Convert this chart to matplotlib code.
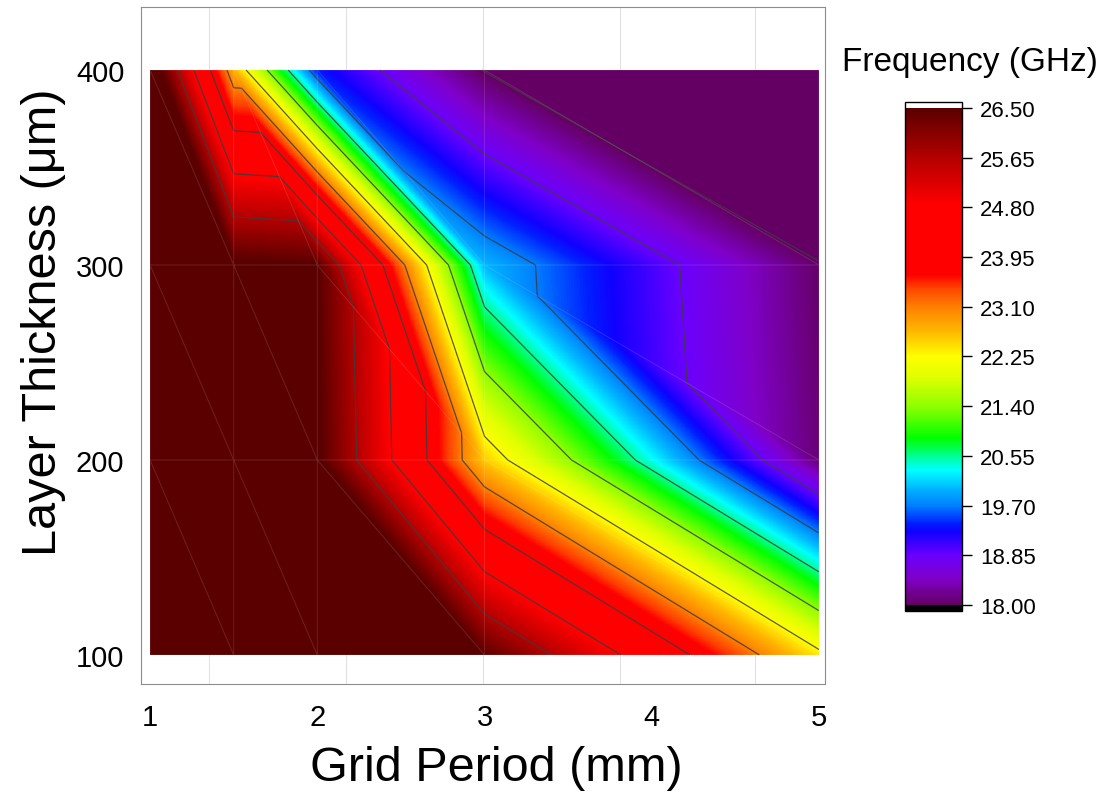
import numpy as np
import matplotlib.pyplot as plt
import matplotlib.tri as mtri
from matplotlib.colors import LinearSegmentedColormap
from matplotlib.cm import ScalarMappable
from matplotlib.colors import Normalize

# grid period (mm) and layer thickness (um) of the simulated points
period = [1.0, 1.5, 2.0, 3.0, 5.0]
thickness = [100, 200, 300, 400]

# resonant frequency (GHz), one list per layer thickness
freq_100 = [31.0, 30.0, 28.5, 26.47, 22.37]
freq_200 = [29.5, 28.0, 26.6, 22.56, 18.10]
freq_300 = [28.0, 26.6, 26.5, 20.00, 18.03]
freq_400 = [27.06, 22.75, 19.37, 17.98, 16.50]

cbar_ticks = [18.00, 18.85, 19.70, 20.55, 21.40, 22.25, 23.10, 23.95, 24.80, 25.65, 26.50]

# rainbow colour map
cmap_stops = [
    (18.00, '#640064'), (18.45, '#8000c8'), (18.85, '#6a00ff'), (19.25, '#1000ff'),
    (19.40, '#0020ff'), (19.70, '#0080ff'), (20.00, '#00b8ff'), (20.30, '#00ffff'),
    (20.55, '#00ff90'), (20.85, '#00ff00'), (21.40, '#90ff00'), (21.90, '#e0ff00'),
    (22.25, '#ffff00'), (22.70, '#ffb400'), (23.10, '#ff8000'), (23.45, '#ff3c00'),
    (23.65, '#ff0000'), (24.85, '#ff0000'), (25.65, '#b40000'), (26.50, '#5a0000'),
]
vmin, vmax = 18.0, 26.5
base = LinearSegmentedColormap.from_list(
    'freq', [((v - vmin) / (vmax - vmin), c) for v, c in cmap_stops], N=512)
cmap_fill = base.with_extremes(over=base(1.0), under=base(0.0))
cmap_bar = base.with_extremes(over='white', under='black')

# build points and triangles (each cell split top-left to bottom-right)
X, Y = np.meshgrid(period, thickness)
Z = np.array([freq_100, freq_200, freq_300, freq_400])
nx, ny = len(period), len(thickness)
tris = []
for j in range(ny - 1):
    for i in range(nx - 1):
        a = j * nx + i
        b = a + 1
        c = a + nx
        d = c + 1
        tris.append([a, b, c])
        tris.append([c, d, b])
tri = mtri.Triangulation(X.ravel(), Y.ravel(), np.array(tris))

# linear interpolation over the triangles for the smooth colour fill
xi = np.linspace(min(period), max(period), 1200)
yi = np.linspace(min(thickness), max(thickness), 900)
XI, YI = np.meshgrid(xi, yi)
ZI = mtri.LinearTriInterpolator(tri, Z.ravel())(XI, YI)

fig = plt.figure(figsize=(11.08, 8.03), dpi=100)
ax = fig.add_axes([0.1273, 0.1469, 0.6173, 0.8431])

ax.imshow(ZI, extent=[xi[0], xi[-1], yi[0], yi[-1]], origin='lower', aspect='auto',
          cmap=cmap_fill, norm=Normalize(vmin, vmax), interpolation='nearest', zorder=1)
ax.tricontour(tri, Z.ravel(), levels=cbar_ticks[:-1], colors='#3c3c3c',
              linewidths=0.9, alpha=0.85, zorder=2)
ax.triplot(tri, color='white', alpha=0.13, lw=0.7, zorder=2)

ax.set_xlim(0.946, 5.036)
ax.set_ylim(85.1, 432.3)
ax.set_xticks([1, 2, 3, 4, 5])
ax.set_yticks([100, 200, 300, 400])
ax.set_xticks([1.35, 2.17, 2.99, 3.81, 4.62], minor=True)
ax.grid(which='minor', axis='x', color='#e2e2e2', lw=0.8, zorder=0)
ax.set_axisbelow(True)
ax.tick_params(which='both', length=0)
ax.tick_params(axis='x', pad=14)
ax.tick_params(axis='y', pad=12)
for lab in ax.get_xticklabels() + ax.get_yticklabels():
    lab.set_family(['Liberation Sans Narrow', 'Liberation Sans', 'DejaVu Sans'])
    lab.set_fontsize(21)
for s in ax.spines.values():
    s.set_color('#8c8c8c')
    s.set_linewidth(0.8)

ax.set_xlabel('Grid Period (mm)', fontsize=35, family='Liberation Sans')
ax.set_ylabel('Layer Thickness (\u03bcm)', fontsize=35, family='Liberation Sans')
ax.xaxis.set_label_coords(0.52, -0.09)
ax.yaxis.set_label_coords(-0.11, 0.536)

# colour bar
cax = fig.add_axes([0.8168, 0.2379, 0.0514, 0.6339])
sm = ScalarMappable(norm=Normalize(vmin, vmax), cmap=cmap_bar)
cb = fig.colorbar(sm, cax=cax, ticks=cbar_ticks, extend='both',
                  extendfrac=0.012, extendrect=True)
cb.ax.set_yticklabels(['%.2f' % t for t in cbar_ticks])
cb.ax.tick_params(length=7, width=1, pad=6, labelsize=16)
for lab in cb.ax.get_yticklabels():
    lab.set_family('Liberation Sans')
cb.outline.set_linewidth(1)
fig.text(970 / 1108, 1 - 63 / 803, 'Frequency (GHz)', fontsize=24,
         family='Liberation Sans', ha='center', va='center')

fig.savefig('out.png', dpi=100)
